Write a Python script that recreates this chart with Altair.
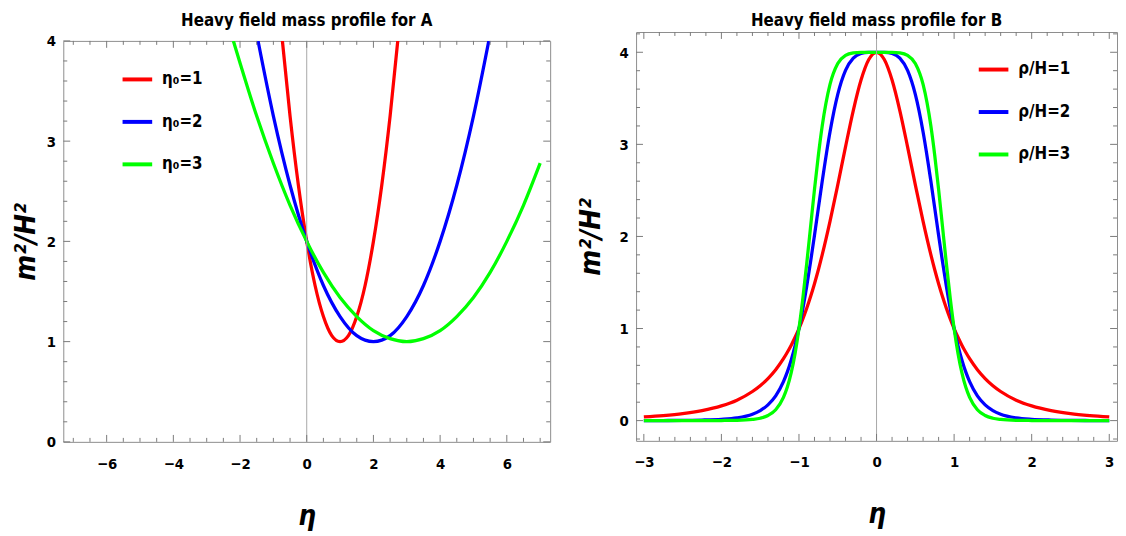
import altair as alt
import pandas as pd

FONT = "DejaVu Sans Condensed, Liberation Sans Narrow, sans-serif"
FRAME = "#8c8c8c"

# ---------------- Panel A : parabola-like profiles ----------------
A_LABELS = ["η₀=1", "η₀=2", "η₀=3"]
A_COLORS = ["#ff0000", "#0000ff", "#00ff00"]
A1_X = [-0.73, -0.5, -0.25, 0, 0.25, 0.5, 0.75, 1, 1.25, 1.5, 1.75, 2, 2.25, 2.5, 2.73]
A1_Y = [4.0, 3.25, 2.56, 2.0, 1.56, 1.25, 1.06, 1.0, 1.06, 1.25, 1.56, 2.0, 2.56, 3.25, 4.0]
A2_X = [-1.46, -1, -0.5, 0, 0.5, 1, 1.5, 2, 2.5, 3, 3.5, 4, 4.5, 5, 5.46]
A2_Y = [4.0, 3.25, 2.56, 2.0, 1.56, 1.25, 1.06, 1.0, 1.06, 1.25, 1.56, 2.0, 2.56, 3.25, 4.0]
A3_X = [-2.2, -2, -1.5, -1, -0.5, 0, 0.5, 1, 1.5, 2, 2.5, 3, 3.5, 4, 4.5, 5, 5.5, 6, 6.5, 7]
A3_Y = [4.0, 3.78, 3.25, 2.78, 2.36, 2.0, 1.69, 1.44, 1.25, 1.11, 1.03, 1.0, 1.03, 1.11, 1.25,
        1.44, 1.69, 2.0, 2.36, 2.78]

A_XMAJ = [-6, -4, -2, 0, 2, 4, 6]
A_XMIN = [-7, -6.5, -5.5, -5, -4.5, -3.5, -3, -2.5, -1.5, -1, -0.5, 0.5, 1, 1.5, 2.5, 3, 3.5,
          4.5, 5, 5.5, 6.5, 7]
A_YMAJ = [0, 1, 2, 3, 4]
A_YMIN = [0.2, 0.4, 0.6, 0.8, 1.2, 1.4, 1.6, 1.8, 2.2, 2.4, 2.6, 2.8, 3.2, 3.4, 3.6, 3.8]

# ---------------- Panel B : bell-shaped profiles ----------------
B_LABELS = ["ρ/H=1", "ρ/H=2", "ρ/H=3"]
B_COLORS = ["#ff0000", "#0000ff", "#00ff00"]
B_X = [-3.0, -2.75, -2.5, -2.25, -2.0, -1.8, -1.6, -1.5, -1.4, -1.3, -1.2, -1.15, -1.1, -1.05,
       -1.0, -0.95, -0.9, -0.85, -0.8, -0.75, -0.7, -0.6, -0.5, -0.4, -0.3, -0.2, -0.1,
       0.0,
       0.1, 0.2, 0.3, 0.4, 0.5, 0.6, 0.7, 0.75, 0.8, 0.85, 0.9, 0.95, 1.0, 1.05, 1.1, 1.15,
       1.2, 1.3, 1.4, 1.5, 1.6, 1.8, 2.0, 2.25, 2.5, 2.75, 3.0]
B1_Y = [0.04, 0.055, 0.076, 0.109, 0.16, 0.222, 0.316, 0.379, 0.457, 0.553, 0.672, 0.742, 0.819,
        0.905, 1.0, 1.105, 1.221, 1.348, 1.487, 1.638, 1.802, 2.163, 2.56, 2.973, 3.367, 3.698,
        3.921,
        4.0,
        3.921, 3.698, 3.367, 2.973, 2.56, 2.163, 1.802, 1.638, 1.487, 1.348, 1.221, 1.105, 1.0,
        0.905, 0.819, 0.742, 0.672, 0.553, 0.457, 0.379, 0.316, 0.222, 0.16, 0.109, 0.076,
        0.055, 0.04]
B2_Y = [0.001, 0.001, 0.003, 0.006, 0.014, 0.03, 0.07, 0.109, 0.171, 0.269, 0.423, 0.529, 0.659,
        0.815, 1.0, 1.215, 1.458, 1.727, 2.013, 2.308, 2.601, 3.135, 3.543, 3.803, 3.936, 3.987,
        3.999,
        4.0,
        3.999, 3.987, 3.936, 3.803, 3.543, 3.135, 2.601, 2.308, 2.013, 1.727, 1.458, 1.215, 1.0,
        0.815, 0.659, 0.529, 0.423, 0.269, 0.171, 0.109, 0.07, 0.03, 0.014, 0.006, 0.003,
        0.001, 0.001]
B3_Y = [0.0, 0.0, 0.0, 0.0, 0.001, 0.003, 0.013, 0.026, 0.055, 0.118, 0.252, 0.364, 0.521,
        0.73, 1.0, 1.329, 1.706, 2.109, 2.511, 2.882, 3.202, 3.651, 3.878, 3.967, 3.994, 4.0,
        4.0,
        4.0,
        4.0, 4.0, 3.994, 3.967, 3.878, 3.651, 3.202, 2.882, 2.511, 2.109, 1.706, 1.329, 1.0,
        0.73, 0.521, 0.364, 0.252, 0.118, 0.055, 0.026, 0.013, 0.003, 0.001, 0.0, 0.0,
        0.0, 0.0]

B_XMAJ = [-3, -2, -1, 0, 1, 2, 3]
B_XMIN = [-2.8, -2.6, -2.4, -2.2, -1.8, -1.6, -1.4, -1.2, -0.8, -0.6, -0.4, -0.2,
          0.2, 0.4, 0.6, 0.8, 1.2, 1.4, 1.6, 1.8, 2.2, 2.4, 2.6, 2.8]
B_YMAJ = [0, 1, 2, 3, 4]
B_YMIN = [-0.2, 0.2, 0.4, 0.6, 0.8, 1.2, 1.4, 1.6, 1.8, 2.2, 2.4, 2.6, 2.8, 3.2, 3.4, 3.6, 3.8,
          4.2]

ZERO_LINE = [0]
X_TITLE = "η"
Y_TITLE = "m²/H²"


def series_frame(labels, xs_list, ys_list):
    rows = []
    for lab, xs, ys in zip(labels, xs_list, ys_list):
        for x, y in zip(xs, ys):
            rows.append({"eta": x, "m": y, "series": lab})
    return pd.DataFrame(rows)


def panel(df, labels, colors, xdom, ydom, w, h, xmaj, xmin, ymaj, ymin, leg_x, leg_y,
          xlpad, xtpad, ytpad):
    xs = alt.Scale(domain=xdom, nice=False, zero=False)
    ys = alt.Scale(domain=ydom, nice=False, zero=False)
    xaxis = alt.Axis(values=xmaj, format="d", labelPadding=xlpad, titlePadding=xtpad)
    yaxis = alt.Axis(values=ymaj, format="d", labelPadding=8, titlePadding=ytpad)

    def X(field):
        return alt.X(field, scale=xs, axis=xaxis, title=X_TITLE)

    def Y(field):
        return alt.Y(field, scale=ys, axis=yaxis, title=Y_TITLE)

    lines = alt.Chart(df).mark_line(strokeWidth=3.3, clip=True, interpolate="monotone").encode(
        x=X("eta:Q"),
        y=Y("m:Q"),
        color=alt.Color("series:N", scale=alt.Scale(domain=labels, range=colors),
                        legend=alt.Legend(title=None, orient="none", legendX=leg_x, legendY=leg_y,
                                          symbolType="stroke", symbolSize=900,
                                          symbolStrokeWidth=4, labelFont=FONT,
                                          labelFontSize=17, labelFontWeight="bold",
                                          labelColor="black", labelOffset=8, rowPadding=18)),
    )
    layers = [lines]
    # zero vertical line
    layers.append(
        alt.Chart(pd.DataFrame({"z": ZERO_LINE})).mark_rule(color="#a8a8a8", strokeWidth=1)
        .encode(x=X("z:Q"), y=alt.value(0), y2=alt.value(h))
    )
    # frame ticks (inward), major and minor on all four sides
    for vals, length in ((xmaj, 7), (xmin, 4)):
        d = pd.DataFrame({"t": vals})
        layers.append(alt.Chart(d).mark_rule(color="#7a7a7a", strokeWidth=1).encode(
            x=X("t:Q"), y=alt.value(h), y2=alt.value(h - length)))
        layers.append(alt.Chart(d).mark_rule(color="#7a7a7a", strokeWidth=1).encode(
            x=X("t:Q"), y=alt.value(0), y2=alt.value(length)))
    for vals, length in ((ymaj, 7), (ymin, 4)):
        d = pd.DataFrame({"t": vals})
        layers.append(alt.Chart(d).mark_rule(color="#7a7a7a", strokeWidth=1).encode(
            y=Y("t:Q"), x=alt.value(0), x2=alt.value(length)))
        layers.append(alt.Chart(d).mark_rule(color="#7a7a7a", strokeWidth=1).encode(
            y=Y("t:Q"), x=alt.value(w), x2=alt.value(w - length)))

    return alt.layer(*layers).properties(
        width=w, height=h, view=alt.ViewBackground(stroke=FRAME, strokeWidth=1)
    )


def title_block(text, w, h, offset):
    return alt.Chart(pd.DataFrame({"z": ZERO_LINE})).mark_point(opacity=0).encode(
        x=alt.value(0), y=alt.value(0)
    ).properties(
        width=w, height=h, view=alt.ViewBackground(stroke="transparent"),
        title=alt.TitleParams(text, font=FONT, fontSize=17, fontWeight="bold", color="black",
                              anchor="middle", frame="group", offset=offset),
    )


dfA = series_frame(A_LABELS, [A1_X, A2_X, A3_X], [A1_Y, A2_Y, A3_Y])
dfB = series_frame(B_LABELS, [B_X, B_X, B_X], [B1_Y, B2_Y, B3_Y])

left = alt.vconcat(
    title_block("Heavy field mass profile for A", 493, 5, -6),
    panel(dfA, A_LABELS, A_COLORS, [-7.3, 7.3], [0, 4], 493, 406,
          A_XMAJ, A_XMIN, A_YMAJ, A_YMIN, 58, 22, 15, 32, 6),
    spacing=0,
).resolve_scale(color="independent")
right = alt.vconcat(
    title_block("Heavy field mass profile for B", 487, 1, -6),
    panel(dfB, B_LABELS, B_COLORS, [-3.1, 3.1], [-0.22, 4.22], 487, 414,
          B_XMAJ, B_XMIN, B_YMAJ, B_YMIN, 345, 21, 14, 32, 14),
    spacing=0,
).resolve_scale(color="independent")

chart = alt.hconcat(left, right, spacing=26).resolve_scale(
    x="independent", y="independent", color="independent"
).properties(
    padding={"left": 4, "top": 0, "right": 0, "bottom": 0}
).configure_view(
    stroke=FRAME, strokeWidth=1
).configure_axis(
    labelFont=FONT, labelFontSize=15, labelFontWeight="bold", labelColor="black",
    titleFont=FONT, titleFontSize=28, titleFontWeight="bold", titleFontStyle="italic",
    titleColor="black", ticks=False, domain=False, grid=False
)

chart.save("out.html", embed_options={"renderer": "svg", "actions": False})
